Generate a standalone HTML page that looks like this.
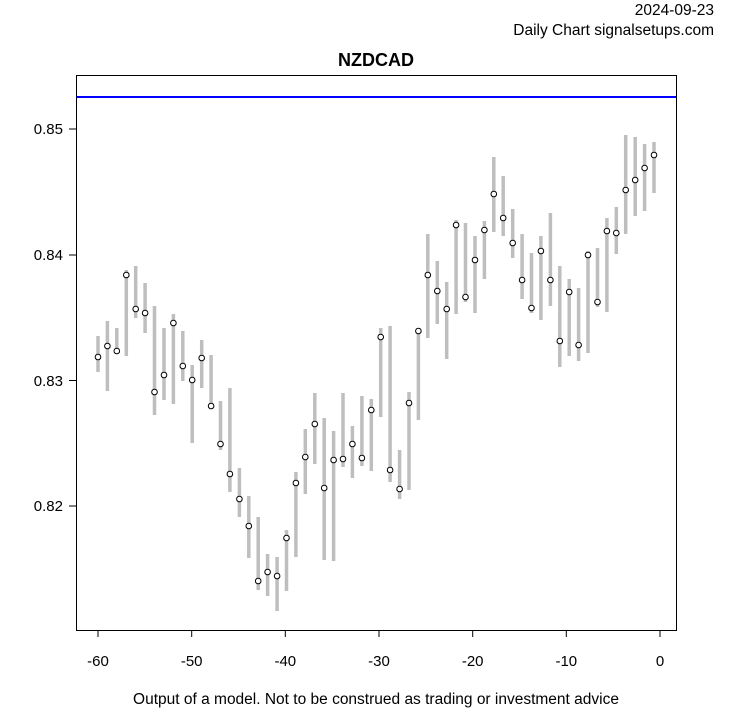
<!DOCTYPE html>
<html><head><meta charset="utf-8"><style>html,body{margin:0;padding:0;background:#fff;}</style></head>
<body>
<svg width="753" height="708" xmlns="http://www.w3.org/2000/svg" font-family="Liberation Sans, Arial, sans-serif">
<rect width="753" height="708" fill="#fff"/>
<text x="714" y="15" font-size="15.5" text-anchor="end">2024-09-23</text>
<text x="714" y="35" font-size="15.5" text-anchor="end">Daily Chart signalsetups.com</text>
<text x="376" y="66" font-size="18" font-weight="bold" text-anchor="middle">NZDCAD</text>
<rect x="76.5" y="75.5" width="600" height="555" fill="none" stroke="#000" stroke-width="1"/>
<line x1="77" y1="97" x2="676" y2="97" stroke="#0000ff" stroke-width="2"/>
<g stroke="#000" stroke-width="1">
<line x1="76" y1="129" x2="69" y2="129"/><line x1="76" y1="255" x2="69" y2="255"/>
<line x1="76" y1="380.5" x2="69" y2="380.5"/><line x1="76" y1="506" x2="69" y2="506"/>
<line x1="98" y1="630" x2="98" y2="637"/><line x1="191.7" y1="630" x2="191.7" y2="637"/>
<line x1="285.3" y1="630" x2="285.3" y2="637"/><line x1="379" y1="630" x2="379" y2="637"/>
<line x1="472.7" y1="630" x2="472.7" y2="637"/><line x1="566.3" y1="630" x2="566.3" y2="637"/>
<line x1="660" y1="630" x2="660" y2="637"/>
</g>
<g font-size="15" text-anchor="end">
<text x="63" y="134">0.85</text><text x="63" y="260">0.84</text>
<text x="63" y="386">0.83</text><text x="63" y="511">0.82</text>
</g>
<g font-size="15" text-anchor="middle">
<text x="98" y="666">-60</text><text x="191.7" y="666">-50</text><text x="285.3" y="666">-40</text>
<text x="379" y="666">-30</text><text x="472.7" y="666">-20</text><text x="566.3" y="666">-10</text>
<text x="660" y="666">0</text>
</g>
<text x="376" y="704" font-size="15.5" text-anchor="middle">Output of a model. Not to be construed as trading or investment advice</text>
<path stroke="#bebebe" stroke-width="3.5" fill="none" d="M98,336V372M107.4,321V391M116.8,328V353M126.3,270V356M135.7,266V318M145.1,283V333M154.5,306V415M164,328V400M173.4,314V404M182.8,331V381M192.2,365V443M201.7,340V388M211.1,355V405M220.5,401V450M229.9,388V492M239.4,468V517M248.8,496V558M258.2,517V590M267.6,554V596M277.1,557V611M286.5,530V591M295.9,472V557M305.3,429V494M314.8,393V464M324.2,418V560M333.6,431V561M343,393V467M352.4,426V478M361.9,396V466M371.3,399V471M380.7,328V417M390.1,326V482M399.6,450V499M409,392V490M418.4,328V420M427.8,234V338M437.3,261V324M446.7,282V359M456.1,220V314M465.5,223V302M475,236V313M484.4,221V279M493.8,157V232M503.2,176V236M512.7,209V258M522.1,234V299M531.5,253V313M540.9,236V320M550.4,213V306M559.8,266V367M569.2,279V356M578.6,288V361M588,251V353M597.5,248V307M606.9,218V312M616.3,207V254M625.7,135V234M635.2,137V216M644.6,144V211M654,142V193"/>
<g fill="#fff" stroke="#000" stroke-width="1">
<circle cx="98" cy="357" r="2.8"/><circle cx="107.4" cy="346" r="2.8"/><circle cx="116.8" cy="351" r="2.8"/><circle cx="126.3" cy="275" r="2.8"/><circle cx="135.7" cy="309" r="2.8"/><circle cx="145.1" cy="313" r="2.8"/><circle cx="154.5" cy="392" r="2.8"/><circle cx="164" cy="375" r="2.8"/><circle cx="173.4" cy="323" r="2.8"/><circle cx="182.8" cy="366" r="2.8"/><circle cx="192.2" cy="380" r="2.8"/><circle cx="201.7" cy="358" r="2.8"/><circle cx="211.1" cy="406" r="2.8"/><circle cx="220.5" cy="444" r="2.8"/><circle cx="229.9" cy="474" r="2.8"/><circle cx="239.4" cy="499" r="2.8"/><circle cx="248.8" cy="526" r="2.8"/><circle cx="258.2" cy="581" r="2.8"/><circle cx="267.6" cy="572" r="2.8"/><circle cx="277.1" cy="576" r="2.8"/><circle cx="286.5" cy="538" r="2.8"/><circle cx="295.9" cy="483" r="2.8"/><circle cx="305.3" cy="457" r="2.8"/><circle cx="314.8" cy="424" r="2.8"/><circle cx="324.2" cy="488" r="2.8"/><circle cx="333.6" cy="460" r="2.8"/><circle cx="343" cy="459" r="2.8"/><circle cx="352.4" cy="444" r="2.8"/><circle cx="361.9" cy="458" r="2.8"/><circle cx="371.3" cy="410" r="2.8"/><circle cx="380.7" cy="337" r="2.8"/><circle cx="390.1" cy="470" r="2.8"/><circle cx="399.6" cy="489" r="2.8"/><circle cx="409" cy="403" r="2.8"/><circle cx="418.4" cy="331" r="2.8"/><circle cx="427.8" cy="275" r="2.8"/><circle cx="437.3" cy="291" r="2.8"/><circle cx="446.7" cy="309" r="2.8"/><circle cx="456.1" cy="225" r="2.8"/><circle cx="465.5" cy="297" r="2.8"/><circle cx="475" cy="260" r="2.8"/><circle cx="484.4" cy="230" r="2.8"/><circle cx="493.8" cy="194" r="2.8"/><circle cx="503.2" cy="218" r="2.8"/><circle cx="512.7" cy="243" r="2.8"/><circle cx="522.1" cy="280" r="2.8"/><circle cx="531.5" cy="308" r="2.8"/><circle cx="540.9" cy="251" r="2.8"/><circle cx="550.4" cy="280" r="2.8"/><circle cx="559.8" cy="341" r="2.8"/><circle cx="569.2" cy="292" r="2.8"/><circle cx="578.6" cy="345" r="2.8"/><circle cx="588" cy="255" r="2.8"/><circle cx="597.5" cy="302" r="2.8"/><circle cx="606.9" cy="231" r="2.8"/><circle cx="616.3" cy="233" r="2.8"/><circle cx="625.7" cy="190" r="2.8"/><circle cx="635.2" cy="180" r="2.8"/><circle cx="644.6" cy="168" r="2.8"/><circle cx="654" cy="155" r="2.8"/>
</g>
</svg>
</body></html>
